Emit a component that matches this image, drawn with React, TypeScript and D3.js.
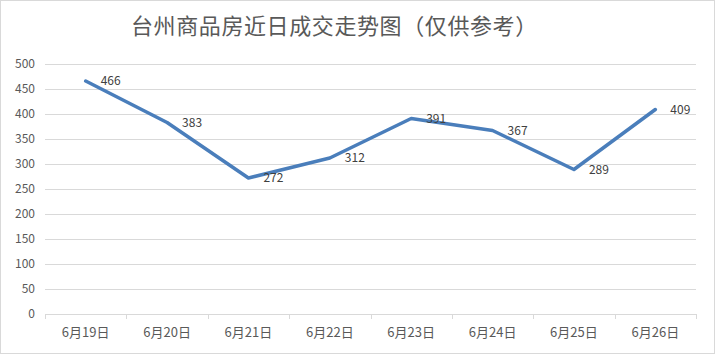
import React from "react";
import * as d3 from "d3";

// 台州商品房近日成交数据
const titleText = "台州商品房近日成交走势图（仅供参考）";
const days = ["6月19日", "6月20日", "6月21日", "6月22日", "6月23日", "6月24日", "6月25日", "6月26日"];
const deals = [466, 383, 272, 312, 391, 367, 289, 409];
const yTicks = [0, 50, 100, 150, 200, 250, 300, 350, 400, 450, 500];

const W = 715;
const H = 354;
const margin = { top: 64, right: 19, bottom: 40, left: 45 };
const font = "'Noto Sans CJK SC', 'Noto Sans', sans-serif";

export default function App() {
  const x = d3.scaleBand<string>()
    .domain(days)
    .range([margin.left, W - margin.right]);
  const y = d3.scaleLinear()
    .domain([0, 500])
    .range([H - margin.bottom, margin.top]);

  const line = d3.line<number>()
    .x((_, i) => (x(days[i]) as number) + x.bandwidth() / 2)
    .y(d => y(d));

  const tickXs = days.map(d => x(d) as number).concat([W - margin.right]);

  return (
    <div style={{ position: "absolute", left: 0, top: 0 }}>
      <svg width={W} height={H} style={{ display: "block", fontFamily: font }}>
        <rect x={0.5} y={0.5} width={W - 1} height={H - 1} fill="#fff" stroke="#d9d9d9" />
        <text x={131} y={34} fontSize={22} letterSpacing={0.6} fill="#595959">{titleText}</text>

        {/* grid */}
        {yTicks.map(t => (
          <g key={t}>
            <line x1={margin.left} x2={W - margin.right} y1={Math.round(y(t)) + 0.5} y2={Math.round(y(t)) + 0.5}
              stroke="#d9d9d9" strokeWidth={1} />
            <text x={35} y={y(t)} dy="0.35em" textAnchor="end" fontSize={12} fill="#595959">{t}</text>
          </g>
        ))}

        {/* x axis ticks */}
        {tickXs.map((tx, i) => (
          <line key={i} x1={Math.round(tx) + 0.5} x2={Math.round(tx) + 0.5}
            y1={y(0)} y2={y(0) + 5} stroke="#d9d9d9" />
        ))}
        {days.map(d => (
          <text key={d} x={(x(d) as number) + x.bandwidth() / 2} y={332} dy="0.35em"
            textAnchor="middle" fontSize={13} fill="#595959">{d}</text>
        ))}

        <path d={line(deals) || ""} fill="none" stroke="#4a7ebb" strokeWidth={3.5}
          strokeLinejoin="round" strokeLinecap="round" />

        {deals.map((v, i) => (
          <text key={i} x={(x(days[i]) as number) + x.bandwidth() / 2 + 15} y={y(v)} dy="0.35em"
            fontSize={12} fill="#404040">{v}</text>
        ))}
      </svg>
    </div>
  );
}
